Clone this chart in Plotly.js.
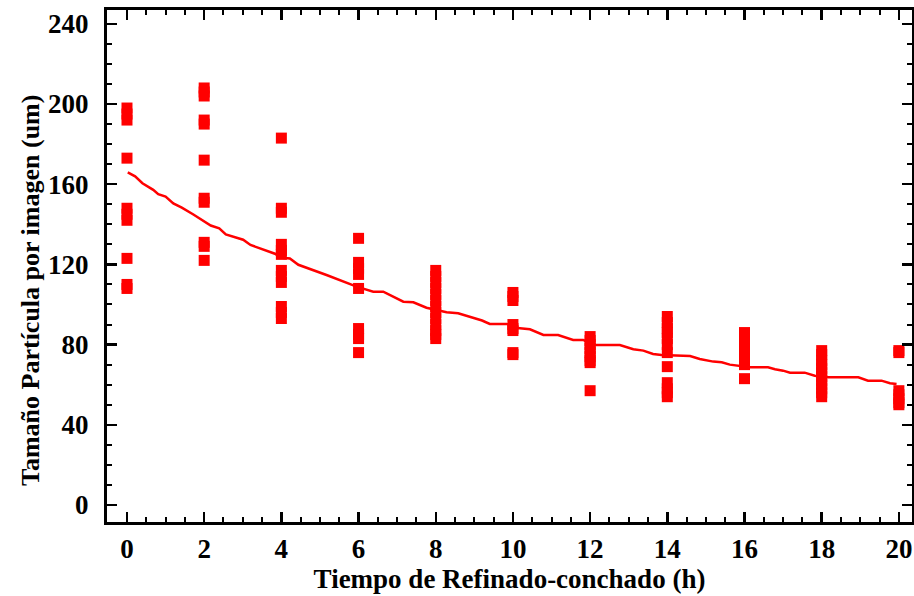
<!DOCTYPE html>
<html>
<head>
<meta charset="utf-8">
<script src="https://cdn.plot.ly/plotly-3.0.1.min.js"></script>
<style>html,body{margin:0;padding:0;background:#fff;}#chart{width:914px;height:596px;}</style>
</head>
<body>
<div id="chart"></div>
<script>
// Observed particle size per refining time (h)
const horas = [0, 2, 4, 6, 8, 10, 12, 14, 16, 18, 20];
const obs_h0  = [198, 195, 192, 173, 148, 145, 142, 123, 110, 108];
const obs_h2  = [208, 206, 204, 192, 190, 172, 153, 151, 131, 129, 122];
const obs_h4  = [183, 148, 146, 130, 127, 125, 117, 114, 111, 99, 96, 93];
const obs_h6  = [133, 121, 118, 115, 108, 88, 85, 83, 76];
const obs_h8  = [117, 114, 111, 108, 105, 102, 99, 96, 93, 90, 87, 85, 83];
const obs_h10 = [106, 104, 102, 90, 88, 87, 76, 75];
const obs_h12 = [84, 82, 80, 78, 76, 74, 72, 71, 57];
const obs_h14 = [94, 91, 88, 86, 83, 80, 76, 69, 61, 58, 56, 54];
const obs_h16 = [86, 84, 82, 80, 78, 76, 74, 72, 70, 63];
const obs_h18 = [77, 75, 72, 70, 68, 66, 64, 62, 60, 58, 56, 54];
const obs_h20 = [77, 76, 57, 55, 53, 51, 50];
const observaciones = [obs_h0, obs_h2, obs_h4, obs_h6, obs_h8, obs_h10, obs_h12, obs_h14, obs_h16, obs_h18, obs_h20];

// Fitted curve
const ajusteX = [0.02, 0.21, 0.40, 0.68, 0.81, 1.00, 1.20, 1.42, 1.72, 1.92, 2.17, 2.39, 2.56, 3.01, 3.20, 3.85, 3.97, 4.22, 4.44, 5.17, 5.43, 5.60, 5.95, 6.38, 6.64, 7.16, 7.42, 7.76, 8.02, 8.28, 8.58, 9.20, 9.40, 9.84, 10.18, 10.44, 10.79, 11.17, 11.56, 11.82, 12.08, 12.77, 13.12, 13.38, 13.63, 13.85, 14.59, 14.84, 15.19, 15.41, 15.62, 15.84, 16.14, 16.61, 16.79, 17.00, 17.18, 17.56, 17.82, 18.17, 18.95, 19.20, 19.55, 19.77, 19.94];
const ajusteY = [165.9, 163.9, 160.5, 157.2, 155.0, 153.8, 150.4, 148.3, 144.9, 142.5, 139.4, 138.0, 135.0, 132.3, 129.7, 125.2, 123.4, 122.9, 119.8, 114.7, 112.7, 111.7, 108.9, 106.4, 106.4, 101.4, 101.1, 98.4, 97.3, 96.1, 95.6, 92.0, 90.3, 90.3, 88.1, 87.6, 84.8, 84.8, 82.3, 82.3, 79.8, 79.8, 77.7, 77.0, 75.3, 74.8, 74.3, 72.8, 71.5, 71.2, 70.0, 69.5, 68.7, 68.7, 67.7, 67.0, 66.0, 66.0, 64.5, 63.7, 63.7, 62.0, 62.0, 60.7, 60.3];

const xTickVals = [0, 2, 4, 6, 8, 10, 12, 14, 16, 18, 20];
const yTickVals = [0, 40, 80, 120, 160, 200, 240];
const tituloX = 'Tiempo de Refinado-conchado (h)';
const tituloY = 'Tamaño Partícula por imagen (um)';

const px = [], py = [];
horas.forEach((h, i) => observaciones[i].forEach(v => { px.push(h); py.push(v); }));

const fontFam = 'Liberation Serif, Times New Roman, serif';
const axisCommon = {
  showline: true, linecolor: '#000', linewidth: 3, mirror: 'ticks',
  ticks: 'inside', ticklen: 10, tickwidth: 2.5, tickcolor: '#000',
  showgrid: false, zeroline: false,
  tickfont: {family: fontFam, size: 27, color: '#000', weight: 'bold'}
};

const data = [
  {x: ajusteX, y: ajusteY, type: 'scatter', mode: 'lines',
   line: {color: '#ff0000', width: 2.5}, hoverinfo: 'skip'},
  {x: px, y: py, type: 'scatter', mode: 'markers',
   marker: {symbol: 'square', size: 11, color: '#ff0000'}}
];

const layout = {
  width: 914, height: 596,
  margin: {l: 107, r: 2, t: 10, b: 74},
  paper_bgcolor: '#fff', plot_bgcolor: '#fff',
  showlegend: false,
  xaxis: Object.assign({}, axisCommon, {
    range: [-0.518, 20.34], tickvals: xTickVals, ticktext: xTickVals.map(String),
    ticklabelstandoff: 1,
    minor: {dtick: 0.5, tick0: 0, ticks: 'inside', ticklen: 5, tickwidth: 2, tickcolor: '#000'},
    title: {text: tituloX, standoff: 4,
            font: {family: fontFam, size: 27, color: '#000', weight: 'bold'}}
  }),
  yaxis: Object.assign({}, axisCommon, {
    range: [-8.5, 246.9], tickvals: yTickVals, ticktext: yTickVals.map(String),
    ticklabelstandoff: 10,
    minor: {dtick: 10, tick0: 0, ticks: 'inside', ticklen: 5, tickwidth: 2, tickcolor: '#000'}
  }),
  annotations: [{
    text: tituloY, textangle: -90, showarrow: false,
    xref: 'paper', yref: 'paper', x: -0.0957, y: 0.453,
    xanchor: 'center', yanchor: 'middle',
    font: {family: fontFam, size: 26, color: '#000', weight: 'bold'}
  }]
};

Plotly.newPlot('chart', data, layout, {displayModeBar: false, staticPlot: true});
</script>
</body>
</html>
